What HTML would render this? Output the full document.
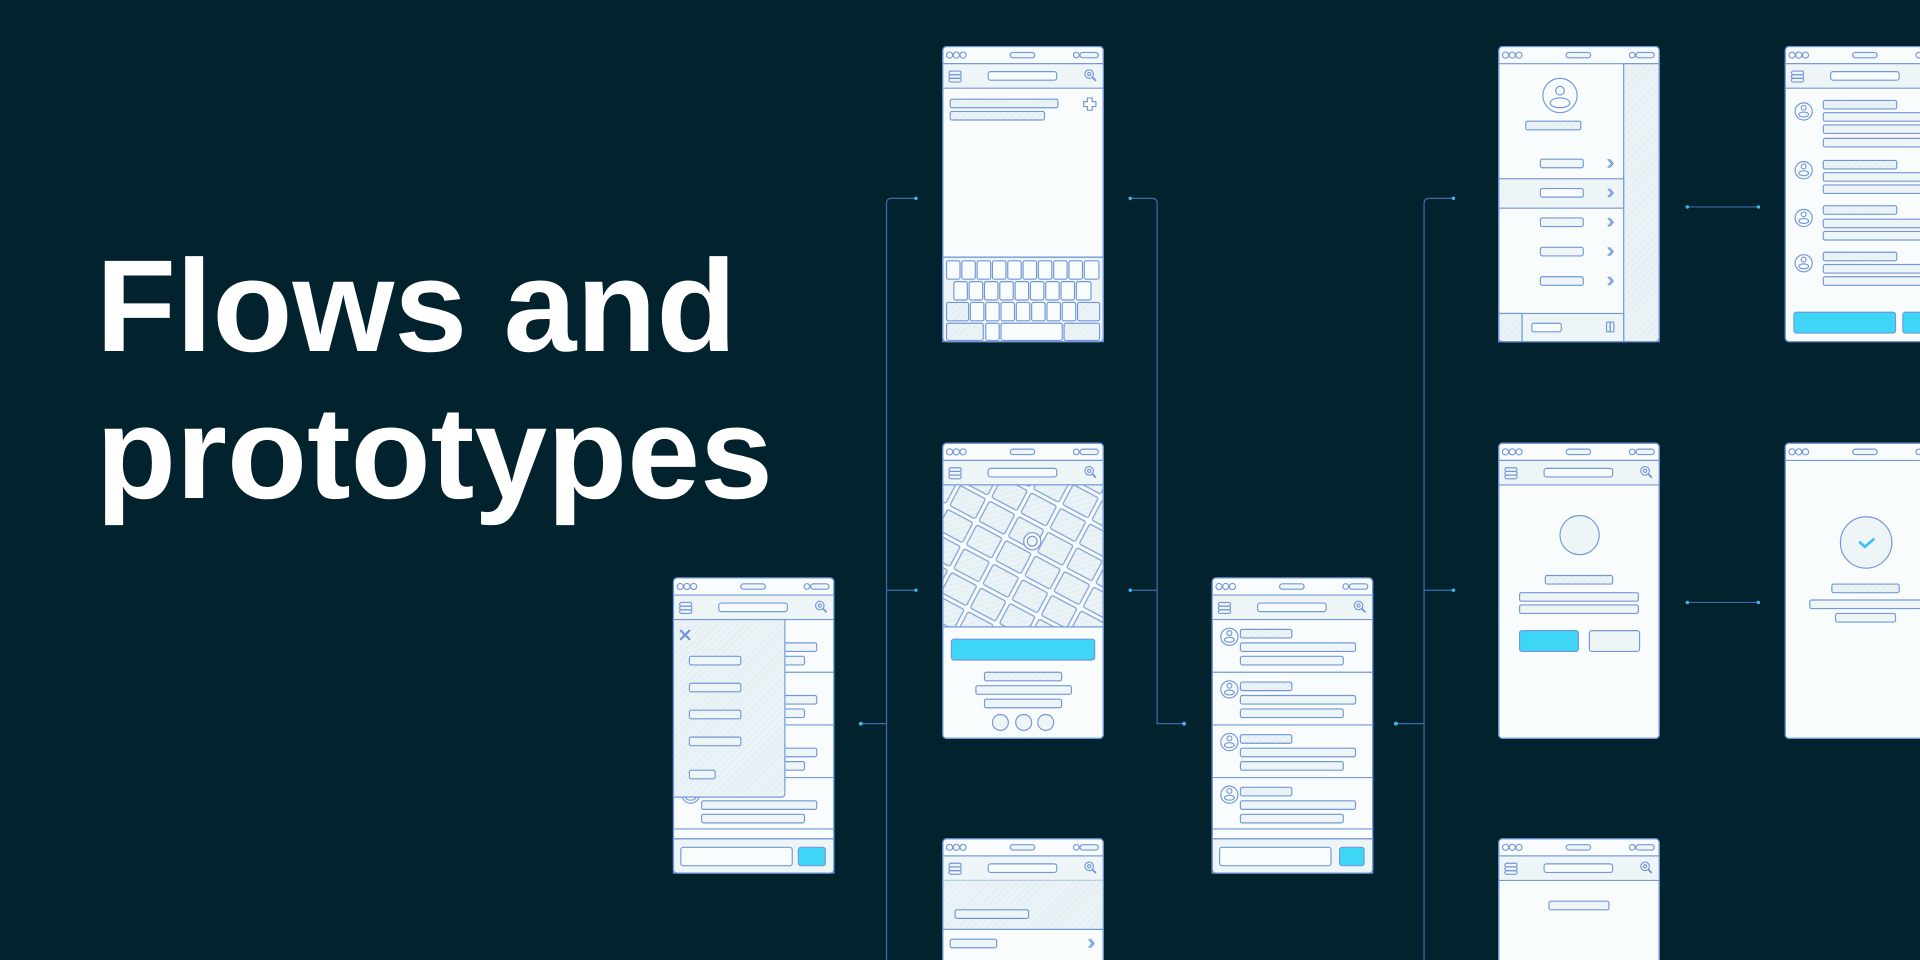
<!DOCTYPE html>
<html><head><meta charset="utf-8"><style>
html,body{margin:0;padding:0;background:#02222d;width:1920px;height:960px;overflow:hidden;}
body{position:relative;font-family:"Liberation Sans",sans-serif;}
.t{position:absolute;left:96px;color:#fff;font-weight:bold;font-size:131px;line-height:1;white-space:nowrap;}
svg{position:absolute;left:0;top:0;overflow:hidden;display:block;}
</style></head><body>
<div class="t" style="top:240px">Flows and</div>
<div class="t" style="top:387px">prototypes</div>
<svg width="1920" height="960" viewBox="0 0 1568 784">
<defs>
<pattern id="h" width="4" height="4" patternUnits="userSpaceOnUse" patternTransform="rotate(45)">
<rect width="4" height="4" fill="#eaf3f6"/><line x1="0" y1="0" x2="0" y2="4" stroke="#dbe8f0" stroke-width="1"/></pattern>
<pattern id="map" width="27" height="22" patternUnits="userSpaceOnUse" patternTransform="rotate(28)">
<rect width="27" height="22" fill="#f8fcfd"/><rect x="1.8" y="1.8" width="23.4" height="18.4" rx="1.5" fill="url(#h)" stroke="#7597d8" stroke-width="0.9"/></pattern>
<g id="top">
<circle cx="5.5" cy="7" r="2.5" fill="none"/><circle cx="11" cy="7" r="2.5" fill="none"/><circle cx="16.5" cy="7" r="2.5" fill="none"/>
<rect x="55" y="4.8" width="20" height="4.4" rx="2.2" fill="#edf5f7"/>
<circle cx="109" cy="7" r="2.3" fill="none"/><rect x="112" y="4.8" width="15" height="4.4" rx="2.2" fill="#edf5f7"/>
<line x1="0" y1="14" x2="131" y2="14"/>
</g>
<g id="nav">
<rect x="0" y="14" width="131" height="20" fill="#edf5f7" stroke="none"/>
<line x1="0" y1="34" x2="131" y2="34"/><line x1="0" y1="14" x2="131" y2="14"/>
<rect x="5" y="20" width="10" height="3" rx="1.5" fill="none"/><rect x="5" y="23" width="10" height="3" rx="1.5" fill="none"/><rect x="5" y="26" width="10" height="3" rx="1.5" fill="none"/>
<rect x="37" y="20.5" width="56" height="7" rx="2" fill="#f8fcfd"/>
<circle cx="119.5" cy="22.5" r="3.5" fill="none"/><circle cx="119.5" cy="22.5" r="1.3" fill="none"/><line x1="122" y1="25" x2="125" y2="28" stroke-width="1.5"/>
</g>
<g id="row">
<circle cx="14" cy="14" r="7" fill="none"/><circle cx="14" cy="11" r="2" fill="none"/><ellipse cx="14" cy="16.5" rx="4" ry="2" fill="none"/>
<rect x="23" y="8" width="42" height="7" rx="1.5" fill="url(#h)"/>
<rect x="23" y="19" width="94" height="7" rx="1.5" fill="#edf5f7"/>
<rect x="23" y="30" width="84" height="7" rx="1.5" fill="#edf5f7"/>
</g>
<g id="chev"><path d="M0,0 l3,3.5 l-3,3.5 M1.5,0 l3,3.5 l-3,3.5" fill="none"/></g>
</defs>

<g stroke="#3d6bab" stroke-width="1" fill="none">
<path d="M703,591 H724"/><path d="M724,784 V166 q0,-4 4,-4 H748"/><path d="M724,482 H748"/>
<path d="M923,162 H941 q4,0 4,4 V591 H967"/><path d="M923,482 H945"/>
<path d="M1140,591 H1163"/><path d="M1163,784 V166 q0,-4 4,-4 H1187"/><path d="M1163,482 H1187"/>
<path d="M1378,169 H1436"/><path d="M1378,492 H1436"/>
</g>
<g fill="#3bb8ee">
<circle cx="703" cy="591" r="1.6"/><circle cx="748" cy="162" r="1.4"/><circle cx="748" cy="482" r="1.4"/>
<circle cx="923" cy="162" r="1.4"/><circle cx="923" cy="482" r="1.4"/><circle cx="967" cy="591" r="1.6"/>
<circle cx="1140" cy="591" r="1.6"/><circle cx="1187" cy="162" r="1.4"/><circle cx="1187" cy="482" r="1.4"/>
<circle cx="1378" cy="169" r="1.4"/><circle cx="1436" cy="169" r="1.4"/><circle cx="1378" cy="492" r="1.4"/><circle cx="1436" cy="492" r="1.4"/>
</g>

<g stroke="#7597d8" stroke-width="0.95">

<g transform="translate(770,38)">
<rect width="131" height="241" rx="3" fill="#f8fcfd"/>
<use href="#top"/><use href="#nav"/>
<rect x="6" y="43" width="88" height="7" rx="1.5" fill="url(#h)"/><rect x="6" y="53" width="77" height="7" rx="1.5" fill="url(#h)"/>
<path d="M118,42 h4 v3 h3 v4 h-3 v3 h-4 v-3 h-3 v-4 h3z" fill="none"/>
<rect x="0" y="172" width="131" height="69" fill="#edf5f7"/>
<g fill="#f8fcfd">
<rect x="3" y="175" width="11" height="15" rx="1.5"/><rect x="15.5" y="175" width="11" height="15" rx="1.5"/><rect x="28" y="175" width="11" height="15" rx="1.5"/><rect x="40.5" y="175" width="11" height="15" rx="1.5"/><rect x="53" y="175" width="11" height="15" rx="1.5"/><rect x="65.5" y="175" width="11" height="15" rx="1.5"/><rect x="78" y="175" width="11" height="15" rx="1.5"/><rect x="90.5" y="175" width="11" height="15" rx="1.5"/><rect x="103" y="175" width="11" height="15" rx="1.5"/><rect x="115.5" y="175" width="12" height="15" rx="1.5"/>
<rect x="9" y="192" width="11" height="15" rx="1.5"/><rect x="21.5" y="192" width="11" height="15" rx="1.5"/><rect x="34" y="192" width="11" height="15" rx="1.5"/><rect x="46.5" y="192" width="11" height="15" rx="1.5"/><rect x="59" y="192" width="11" height="15" rx="1.5"/><rect x="71.5" y="192" width="11" height="15" rx="1.5"/><rect x="84" y="192" width="11" height="15" rx="1.5"/><rect x="96.5" y="192" width="11" height="15" rx="1.5"/><rect x="109" y="192" width="12" height="15" rx="1.5"/>
<rect x="3" y="209" width="18" height="15" rx="1.5" fill="url(#h)"/><rect x="22.5" y="209" width="11" height="15" rx="1.5"/><rect x="35" y="209" width="11" height="15" rx="1.5"/><rect x="47.5" y="209" width="11" height="15" rx="1.5"/><rect x="60" y="209" width="11" height="15" rx="1.5"/><rect x="72.5" y="209" width="11" height="15" rx="1.5"/><rect x="85" y="209" width="11" height="15" rx="1.5"/><rect x="97.5" y="209" width="11" height="15" rx="1.5"/><rect x="110" y="209" width="18" height="15" rx="1.5" fill="url(#h)"/>
<rect x="3" y="226" width="30" height="14" rx="1.5" fill="url(#h)"/><rect x="35" y="226" width="11" height="14" rx="1.5"/><rect x="47.5" y="226" width="50" height="14" rx="1.5"/><rect x="99" y="226" width="29" height="14" rx="1.5" fill="url(#h)"/>
</g>
<line x1="0" y1="172" x2="131" y2="172"/>
<rect width="131" height="241" rx="3" fill="none"/>
</g>

<g transform="translate(770,362)">
<rect width="131" height="241" rx="3" fill="#f8fcfd"/>
<use href="#top"/><use href="#nav"/>
<rect x="0" y="34" width="131" height="116" fill="url(#map)"/>
<line x1="0" y1="150" x2="131" y2="150"/>
<circle cx="73" cy="80" r="7" fill="#f8fcfd"/><circle cx="73" cy="80" r="4" fill="#edf5f7"/>
<rect x="7" y="160" width="117" height="17" rx="2" fill="#3dd6f7"/>
<rect x="34" y="187" width="63" height="7" rx="1.5" fill="url(#h)"/>
<rect x="27" y="198" width="78" height="7" rx="1.5" fill="#edf5f7"/>
<rect x="34" y="209" width="63" height="7" rx="1.5" fill="#edf5f7"/>
<circle cx="47" cy="228" r="6.5" fill="#edf5f7"/><circle cx="66" cy="228" r="6.5" fill="#edf5f7"/><circle cx="84" cy="228" r="6.5" fill="#edf5f7"/>
<rect width="131" height="241" rx="3" fill="none"/>
</g>

<g transform="translate(770,685)">
<rect width="131" height="241" rx="3" fill="#f8fcfd"/>
<use href="#top"/><use href="#nav"/>
<rect x="0" y="34" width="131" height="40" fill="url(#h)" stroke="none"/>
<line x1="0" y1="74" x2="131" y2="74"/>
<rect x="10" y="58" width="60" height="7" rx="1.5" fill="#edf5f7"/>
<rect x="6" y="82" width="38" height="7" rx="1.5" fill="#edf5f7"/>
<use href="#chev" transform="translate(119,82)"/>
<rect width="131" height="241" rx="3" fill="none"/>
</g>

<g transform="translate(550,472)">
<rect width="131" height="241" rx="3" fill="#f8fcfd"/>
<use href="#top"/><use href="#nav"/>
<use href="#row" transform="translate(0,34)"/><use href="#row" transform="translate(0,77)"/><use href="#row" transform="translate(0,120)"/><use href="#row" transform="translate(0,163)"/>
<line x1="0" y1="77" x2="131" y2="77"/><line x1="0" y1="120" x2="131" y2="120"/><line x1="0" y1="163" x2="131" y2="163"/><line x1="0" y1="205" x2="131" y2="205"/>
<rect x="0" y="213" width="131" height="28" fill="#edf5f7"/><line x1="0" y1="213" x2="131" y2="213"/>
<rect x="6" y="220" width="91" height="15" rx="2" fill="#f8fcfd"/>
<rect x="102" y="220" width="22" height="15" rx="2" fill="#3dd6f7"/>
<path d="M0,34 H91 V176 q0,3 -3,3 H0z" fill="url(#h)"/>
<path d="M6,43 l7,7 M13,43 l-7,7" stroke-width="1.8" stroke-linecap="round"/>
<rect x="13" y="64" width="42" height="7" rx="1.5" fill="#edf5f7"/>
<rect x="13" y="86" width="42" height="7" rx="1.5" fill="#edf5f7"/>
<rect x="13" y="108" width="42" height="7" rx="1.5" fill="#edf5f7"/>
<rect x="13" y="130" width="42" height="7" rx="1.5" fill="#edf5f7"/>
<rect x="13" y="157" width="21" height="7" rx="1.5" fill="#edf5f7"/>
<rect width="131" height="241" rx="3" fill="none"/>
</g>

<g transform="translate(990,472)">
<rect width="131" height="241" rx="3" fill="#f8fcfd"/>
<use href="#top"/><use href="#nav"/>
<use href="#row" transform="translate(0,34)"/><use href="#row" transform="translate(0,77)"/><use href="#row" transform="translate(0,120)"/><use href="#row" transform="translate(0,163)"/>
<line x1="0" y1="77" x2="131" y2="77"/><line x1="0" y1="120" x2="131" y2="120"/><line x1="0" y1="163" x2="131" y2="163"/><line x1="0" y1="205" x2="131" y2="205"/>
<rect x="0" y="213" width="131" height="28" fill="#edf5f7"/><line x1="0" y1="213" x2="131" y2="213"/>
<rect x="6" y="220" width="91" height="15" rx="2" fill="#f8fcfd"/>
<rect x="104" y="220" width="20" height="15" rx="2" fill="#3dd6f7"/>
<rect width="131" height="241" rx="3" fill="none"/>
</g>

<g transform="translate(1224,38)">
<rect width="131" height="241" rx="3" fill="#f8fcfd"/>
<use href="#top"/>
<rect x="102" y="14" width="29" height="227" fill="url(#h)"/>
<circle cx="50" cy="40" r="14" fill="none"/><circle cx="50" cy="36" r="3.5" fill="none"/><ellipse cx="50" cy="46" rx="8" ry="4" fill="none"/>
<rect x="22" y="61" width="45" height="7" rx="1.5" fill="url(#h)"/>
<rect x="34" y="92" width="35" height="7" rx="1.5" fill="#edf5f7"/><use href="#chev" transform="translate(89,92)"/>
<rect x="0" y="108" width="102" height="24" fill="#edf5f7"/>
<rect x="34" y="116" width="35" height="7" rx="1.5" fill="#f8fcfd"/><use href="#chev" transform="translate(89,116)"/>
<rect x="34" y="140" width="35" height="7" rx="1.5" fill="#edf5f7"/><use href="#chev" transform="translate(89,140)"/>
<rect x="34" y="164" width="35" height="7" rx="1.5" fill="#edf5f7"/><use href="#chev" transform="translate(89,164)"/>
<rect x="34" y="188" width="35" height="7" rx="1.5" fill="#edf5f7"/><use href="#chev" transform="translate(89,188)"/>
<rect x="0" y="218" width="102" height="23" fill="#edf5f7"/>
<rect x="0" y="218" width="19" height="23" fill="url(#h)"/><line x1="19" y1="218" x2="19" y2="241"/>
<rect x="27" y="226" width="24" height="7" rx="1.5" fill="#f8fcfd"/>
<rect x="88" y="225" width="3" height="8" rx="1" fill="none"/><rect x="91" y="225" width="3" height="8" rx="1" fill="none"/>
<rect width="131" height="241" rx="3" fill="none"/>
</g>

<g transform="translate(1224,362)">
<rect width="131" height="241" rx="3" fill="#f8fcfd"/>
<use href="#top"/><use href="#nav"/>
<circle cx="66" cy="75" r="16" fill="#edf5f7"/>
<rect x="38" y="108" width="55" height="7" rx="1.5" fill="url(#h)"/>
<rect x="17" y="122" width="97" height="7" rx="1.5" fill="#edf5f7"/>
<rect x="17" y="132" width="97" height="7" rx="1.5" fill="#edf5f7"/>
<rect x="17" y="153" width="48" height="17" rx="2" fill="#3dd6f7"/>
<rect x="74" y="153" width="41" height="17" rx="2" fill="#edf5f7"/>
<rect width="131" height="241" rx="3" fill="none"/>
</g>

<g transform="translate(1224,685)">
<rect width="131" height="241" rx="3" fill="#f8fcfd"/>
<use href="#top"/><use href="#nav"/>
<rect x="41" y="51" width="49" height="7" rx="1.5" fill="#edf5f7"/>
<rect width="131" height="241" rx="3" fill="none"/>
</g>

<g transform="translate(1458,38)">
<rect width="131" height="241" rx="3" fill="#f8fcfd"/>
<use href="#top"/><use href="#nav"/>
<g transform="translate(1,39)"><circle cx="14" cy="14" r="7" fill="none"/><circle cx="14" cy="11" r="2" fill="none"/><ellipse cx="14" cy="16.5" rx="4" ry="2" fill="none"/></g>
<rect x="31" y="44" width="60" height="7" rx="1.5" fill="url(#h)"/><rect x="31" y="54" width="100" height="7" rx="1.5" fill="#edf5f7"/><rect x="31" y="64" width="100" height="7" rx="1.5" fill="#edf5f7"/><rect x="31" y="75" width="100" height="7" rx="1.5" fill="#edf5f7"/>
<g transform="translate(1,87)"><circle cx="14" cy="14" r="7" fill="none"/><circle cx="14" cy="11" r="2" fill="none"/><ellipse cx="14" cy="16.5" rx="4" ry="2" fill="none"/></g>
<rect x="31" y="93" width="60" height="7" rx="1.5" fill="url(#h)"/><rect x="31" y="103" width="100" height="7" rx="1.5" fill="#edf5f7"/><rect x="31" y="113" width="100" height="7" rx="1.5" fill="#edf5f7"/>
<g transform="translate(1,126)"><circle cx="14" cy="14" r="7" fill="none"/><circle cx="14" cy="11" r="2" fill="none"/><ellipse cx="14" cy="16.5" rx="4" ry="2" fill="none"/></g>
<rect x="31" y="130" width="60" height="7" rx="1.5" fill="url(#h)"/><rect x="31" y="141" width="100" height="7" rx="1.5" fill="#edf5f7"/><rect x="31" y="151" width="100" height="7" rx="1.5" fill="#edf5f7"/>
<g transform="translate(1,163)"><circle cx="14" cy="14" r="7" fill="none"/><circle cx="14" cy="11" r="2" fill="none"/><ellipse cx="14" cy="16.5" rx="4" ry="2" fill="none"/></g>
<rect x="31" y="168" width="60" height="7" rx="1.5" fill="url(#h)"/><rect x="31" y="178" width="100" height="7" rx="1.5" fill="#edf5f7"/><rect x="31" y="188" width="100" height="7" rx="1.5" fill="#edf5f7"/>
<rect x="7" y="217" width="83" height="17" rx="2" fill="#3dd6f7"/>
<rect x="96" y="217" width="40" height="17" rx="2" fill="#3dd6f7"/>
<rect width="131" height="241" rx="3" fill="none"/>
</g>

<g transform="translate(1458,362)">
<rect width="131" height="241" rx="3" fill="#f8fcfd"/>
<use href="#top"/>
<circle cx="66" cy="81" r="21" fill="#edf5f7"/>
<path d="M61,81 l4,3.5 l7,-6" fill="none" stroke="#3dc2f0" stroke-width="2.2" stroke-linecap="round"/>
<rect x="38" y="115" width="55" height="7" rx="1.5" fill="url(#h)"/>
<rect x="20" y="128" width="111" height="7" rx="1.5" fill="#edf5f7"/>
<rect x="41" y="139" width="49" height="7" rx="1.5" fill="#edf5f7"/>
<rect width="131" height="241" rx="3" fill="none"/>
</g>
</g>
</svg>
</body></html>
